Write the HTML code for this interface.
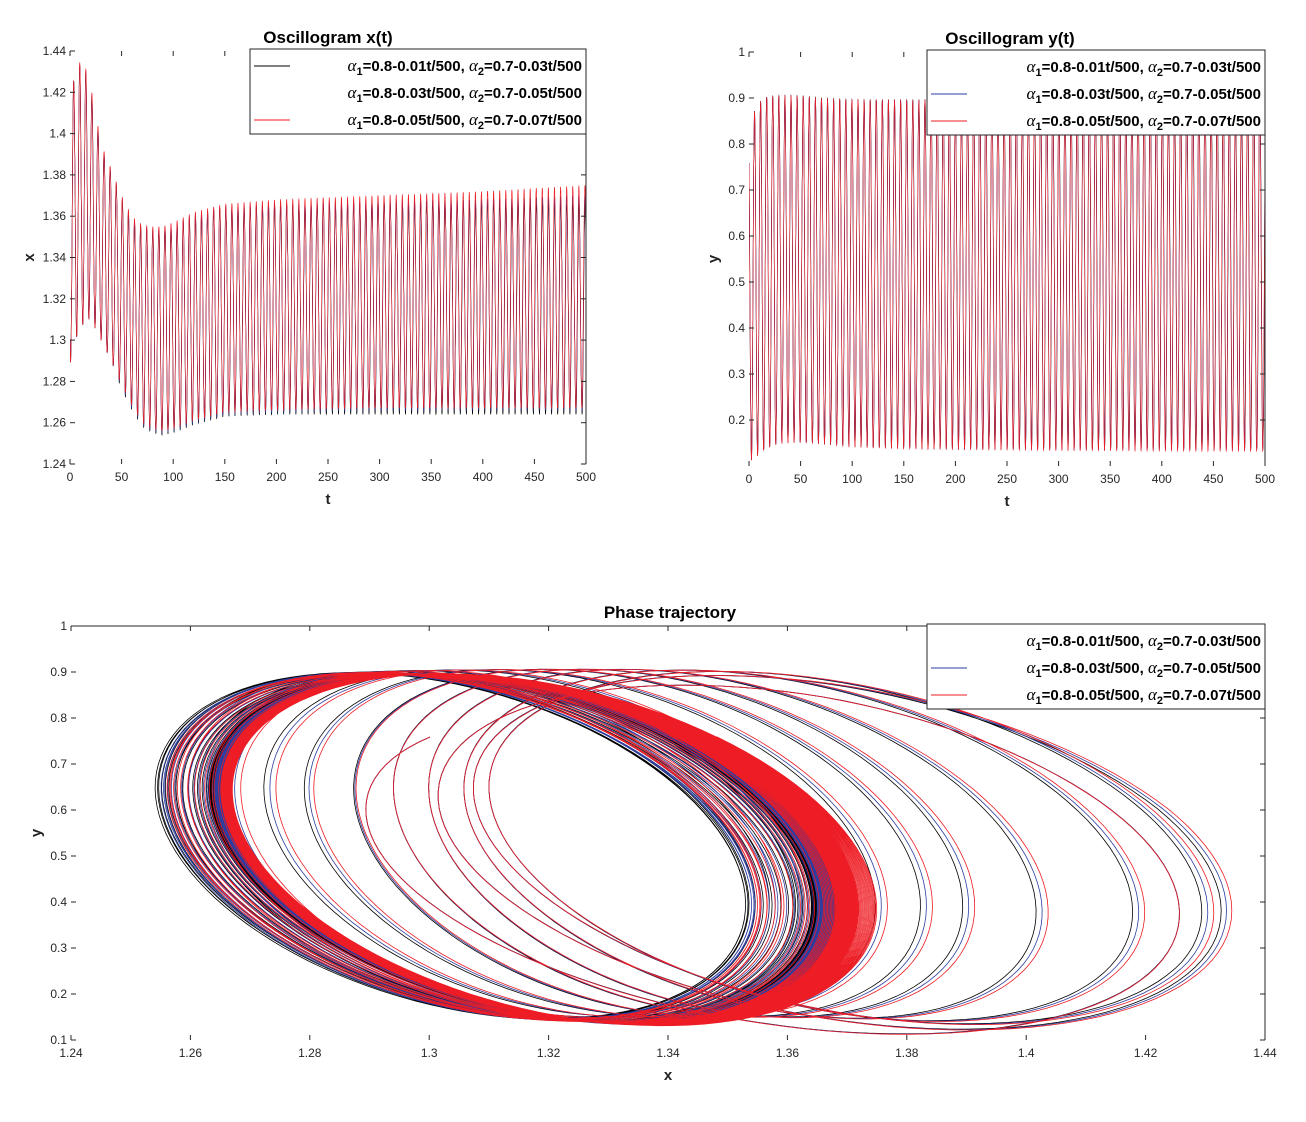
<!DOCTYPE html>
<html><head><meta charset="utf-8"><style>
body{margin:0;background:#fff;}
svg{display:block;font-family:"Liberation Sans",sans-serif;}
.tk{font-size:12px;fill:#262626;}
.ttl{font-size:17px;font-weight:bold;fill:#000;}
.lab{font-size:15px;font-weight:bold;fill:#222;}
.lg{font-size:15px;font-weight:bold;fill:#000;}
.al{font-family:"Liberation Serif",serif;font-style:italic;font-weight:normal;font-size:17px;}
</style></head><body>
<svg id="fig" width="1306" height="1122" viewBox="0 0 1306 1122" xmlns="http://www.w3.org/2000/svg"></svg>
<script>
// envelope knots (t) and per-series envelopes
const knotT = [0,5,10,15,20,25,30,40,50,60,70,80,90,100,120,150,200,300,400,500];
const xMaxRed   = [1.415,1.43,1.435,1.432,1.423,1.41,1.395,1.383,1.37,1.36,1.356,1.355,1.355,1.357,1.362,1.366,1.368,1.370,1.372,1.375];
const xMinRed   = [1.288,1.30,1.305,1.31,1.31,1.305,1.30,1.29,1.278,1.268,1.26,1.257,1.256,1.257,1.261,1.265,1.266,1.267,1.267,1.267];
const xMaxBlue  = [1.415,1.43,1.434,1.431,1.422,1.409,1.394,1.382,1.369,1.359,1.355,1.354,1.354,1.356,1.361,1.365,1.366,1.367,1.368,1.370];
const xMinBlue  = [1.288,1.30,1.305,1.31,1.31,1.305,1.30,1.29,1.277,1.267,1.259,1.256,1.255,1.256,1.260,1.264,1.265,1.266,1.266,1.266];
const xMaxBlack = [1.415,1.43,1.433,1.43,1.421,1.408,1.393,1.381,1.368,1.358,1.354,1.353,1.353,1.355,1.360,1.364,1.365,1.366,1.366,1.366];
const xMinBlack = [1.288,1.30,1.305,1.31,1.31,1.305,1.30,1.29,1.276,1.266,1.258,1.255,1.254,1.255,1.259,1.263,1.264,1.264,1.264,1.264];
const yMaxRed   = [0.82,0.87,0.89,0.90,0.903,0.905,0.906,0.906,0.905,0.903,0.90,0.899,0.898,0.897,0.896,0.896,0.896,0.896,0.896,0.896];
const yMinRed   = [0.11,0.115,0.125,0.135,0.14,0.145,0.148,0.15,0.15,0.149,0.147,0.145,0.143,0.141,0.139,0.137,0.135,0.133,0.132,0.131];
const yMaxBlue  = [0.82,0.87,0.89,0.90,0.903,0.905,0.906,0.906,0.905,0.903,0.90,0.899,0.898,0.897,0.896,0.896,0.896,0.896,0.896,0.896];
const yMinBlue  = [0.11,0.116,0.126,0.136,0.141,0.146,0.149,0.151,0.151,0.150,0.148,0.146,0.144,0.142,0.140,0.138,0.136,0.135,0.134,0.134];
const yMaxBlack = [0.82,0.87,0.89,0.90,0.903,0.905,0.906,0.906,0.905,0.903,0.90,0.899,0.898,0.897,0.896,0.896,0.896,0.896,0.896,0.896];
const yMinBlack = [0.11,0.117,0.127,0.137,0.142,0.147,0.150,0.152,0.152,0.151,0.149,0.147,0.145,0.143,0.141,0.140,0.139,0.138,0.138,0.138];
const periods = [5.900, 5.899, 5.898];
const seriesColors = ["#000000","#2b3da0","#ee1c24"];
const tTicks = [0,50,100,150,200,250,300,350,400,450,500];
const xTicks = [1.24,1.26,1.28,1.3,1.32,1.34,1.36,1.38,1.4,1.42,1.44];
const yTicks = [0.1,0.2,0.3,0.4,0.5,0.6,0.7,0.8,0.9,1];
const legendTexts = [["0.8-0.01t/500","0.7-0.03t/500"],["0.8-0.03t/500","0.7-0.05t/500"],["0.8-0.05t/500","0.7-0.07t/500"]];

const NS="http://www.w3.org/2000/svg";
const svg=document.getElementById('fig');
function mk(tag,attrs,parent){const e=document.createElementNS(NS,tag);for(const k in attrs)e.setAttribute(k,attrs[k]);(parent||svg).appendChild(e);return e;}
function env(arr,t){for(let i=0;i<knotT.length-1;i++){if(t<=knotT[i+1]){const f=(t-knotT[i])/(knotT[i+1]-knotT[i]);return arr[i]+f*(arr[i+1]-arr[i]);}}return arr[arr.length-1];}
const envs=[[xMaxBlack,xMinBlack,yMaxBlack,yMinBlack],[xMaxBlue,xMinBlue,yMaxBlue,yMinBlue],[xMaxRed,xMinRed,yMaxRed,yMinRed]];
const PHI=-0.346;
function state(s,t){const e=envs[s];const th=2*Math.PI*t/periods[s]+Math.PI*0.8;
 const xc=(env(e[0],t)+env(e[1],t))/2, xa=(env(e[0],t)-env(e[1],t))/2;
 const yc=(env(e[2],t)+env(e[3],t))/2, ya=(env(e[2],t)-env(e[3],t))/2;
 return [xc+xa*Math.cos(th), yc+ya*Math.sin(th+PHI)];}

function axes(o){
 const g=mk('g',{});
 
 
 const sx=v=>o.L+(v-o.x0)/(o.x1-o.x0)*(o.R-o.L);
 const sy=v=>o.B-(v-o.y0)/(o.y1-o.y0)*(o.B-o.T);
 const cid=o.name+'-clip';
 const cp=mk('clipPath',{id:cid},g);mk('rect',{x:o.L,y:o.T,width:o.R-o.L,height:o.B-o.T},cp);
 const pg=mk('g',{'clip-path':'url(#'+cid+')'},g);
 const dt=o.phase?0.05:0.1;
 for(let s=0;s<3;s++){
  let d='';
  for(let t=0;t<=500;t+=dt){const st=state(s,t);const px=o.phase?sx(st[0]):sx(t);const py=o.phase?sy(st[1]):sy(st[o.comp]);d+=(d?'L':'M')+px.toFixed(1)+','+py.toFixed(1);}
  const p=mk('path',{d:d,fill:'none',stroke:seriesColors[s],'stroke-width':o.phase?0.8:0.6},pg);
  
  
 }
 const ax=mk('g',{stroke:'#262626','stroke-width':1,fill:'none'},g);
 if(o.topLine)mk('line',{x1:o.L,y1:o.T,x2:o.R,y2:o.T},ax);
 mk('line',{x1:o.R,y1:o.T,x2:o.R,y2:o.B},ax);
 o.xt.forEach(v=>{const x=sx(v);mk('line',{x1:x,y1:o.B,x2:x,y2:o.B-5},ax);mk('line',{x1:x,y1:o.T,x2:x,y2:o.T+5},ax);
  const tx=mk('text',{x:x,y:o.B+17,'text-anchor':'middle',class:'tk'},g);tx.textContent=String(v);});
 o.yt.forEach(v=>{const y=sy(v);mk('line',{x1:o.L,y1:y,x2:o.L+5,y2:y},ax);mk('line',{x1:o.R,y1:y,x2:o.R-5,y2:y},ax);
  const tx=mk('text',{x:o.L-4,y:y+4,'text-anchor':'end',class:'tk'},g);tx.textContent=String(v);});
 const tt=mk('text',{x:o.tx,y:o.T-8,'text-anchor':'middle',class:'ttl'},g);tt.textContent=o.title;
 
 const xl=mk('text',{x:(o.L+o.R)/2,y:o.B+40,'text-anchor':'middle',class:'lab'},g);xl.textContent=o.xl;
 
 const yl=mk('text',{x:0,y:0,'text-anchor':'middle',class:'lab',transform:'translate('+o.ylx+','+((o.T+o.B)/2)+') rotate(-90)'},g);yl.textContent=o.yl;
 
 const lg=mk('g',{},g);
 
 mk('rect',{x:o.lgx,y:o.T-2,width:o.R-o.lgx,height:85,fill:'#fff',stroke:'#262626','stroke-width':1},lg);
 for(let i=0;i<3;i++){const y=o.T+15+i*27;
  if(o.lines[i])mk('line',{x1:o.lgx+4,y1:y,x2:o.lgx+40,y2:y,stroke:seriesColors[i],'stroke-width':1},lg);
  const t=mk('text',{x:o.R-4,y:y+5,'text-anchor':'end',class:'lg'},lg);
  
  t.innerHTML='<tspan class="al">α</tspan><tspan font-size="11" dy="4">1</tspan><tspan dy="-4">='+legendTexts[i][0]+', </tspan><tspan class="al">α</tspan><tspan font-size="11" dy="4">2</tspan><tspan dy="-4">='+legendTexts[i][1]+'</tspan>';
 }
}
axes({name:'oscillogram-x',L:70,R:586,T:51,B:464,x0:0,x1:500,y0:1.24,y1:1.44,comp:0,phase:false,xt:tTicks,yt:[1.24,1.26,1.28,1.3,1.32,1.34,1.36,1.38,1.4,1.42,1.44],title:'Oscillogram x(t)',tx:328,xl:'t',yl:'x',ylx:34,lgx:250,lines:[true,false,true],topLine:false});
axes({name:'oscillogram-y',L:749,R:1265,T:52,B:466,x0:0,x1:500,y0:0.1,y1:1,comp:1,phase:false,xt:tTicks,yt:yTicks.slice(1),title:'Oscillogram y(t)',tx:1010,xl:'t',yl:'y',ylx:718,lgx:927,lines:[false,true,true],topLine:false});
axes({name:'phase-trajectory',L:71,R:1265,T:626,B:1040,x0:1.24,x1:1.44,y0:0.1,y1:1,phase:true,xt:xTicks,yt:yTicks,title:'Phase trajectory',tx:670,xl:'x',yl:'y',ylx:41,lgx:927,lines:[false,true,true],topLine:true});
</script>
</body></html>
